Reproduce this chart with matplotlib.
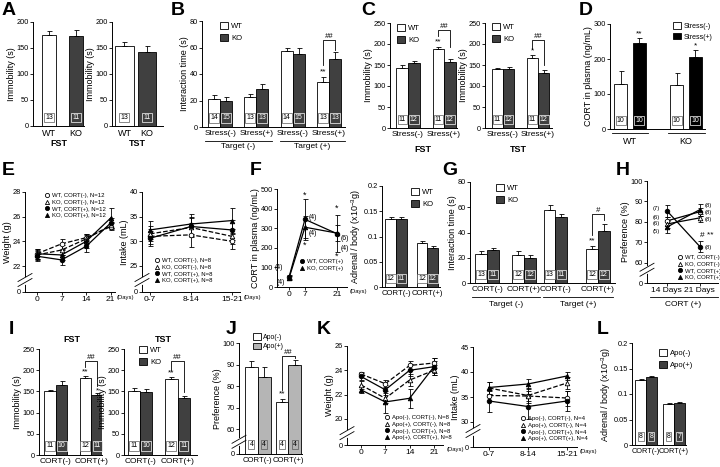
import matplotlib.pyplot as plt
import matplotlib.transforms as mtransforms
from matplotlib.lines import Line2D
from matplotlib.patches import Patch

plt.rcParams['font.family'] = ['Liberation Sans', 'DejaVu Sans']
plt.rcParams['mathtext.default'] = 'regular'
plt.rcParams['axes.linewidth'] = 0.7

# ---- data ----
a_groups = ['WT', 'KO']
a_fst = [175, 173]
a_fst_err = [7, 11]
a_tst = [153, 143]
a_tst_err = [8, 11]
a_n = [13, 11]

b_groups = ['Stress(-)', 'Stress(+)', 'Stress(-)', 'Stress(+)']
b_wt = [21, 22.5, 57, 34]
b_wt_err = [3.5, 2.5, 2.5, 4]
b_wt_n = [14, 13, 14, 13]
b_ko = [20, 28.5, 55, 51.5]
b_ko_err = [3, 4, 5, 5]
b_ko_n = [15, 13, 15, 13]

c_groups = ['Stress(-)', 'Stress(+)']
c_fst_wt = [143, 188]
c_fst_wt_err = [6, 6]
c_fst_ko = [154, 158]
c_fst_ko_err = [5, 7]
c_tst_wt = [140, 166]
c_tst_wt_err = [4, 8]
c_tst_ko = [140, 131]
c_tst_ko_err = [6, 8]
c_wt_n = [11, 11]
c_ko_n = [12, 12]

d_groups = ['WT', 'KO']
d_minus = [130, 125]
d_minus_err = [35, 35]
d_plus = [247, 207]
d_plus_err = [13, 18]
d_n = [10, 10]

e_days = [0, 7, 14, 21]
e_wt_cm = [23.0, 23.8, 24.3, 25.2]
e_wt_cm_err = [0.4, 0.4, 0.3, 0.3]
e_ko_cm = [22.9, 23.3, 24.2, 25.3]
e_ko_cm_err = [0.4, 0.4, 0.4, 0.3]
e_wt_cp = [22.8, 22.5, 23.6, 25.5]
e_wt_cp_err = [0.4, 0.4, 0.5, 0.4]
e_ko_cp = [23.0, 22.9, 24.0, 25.9]
e_ko_cp_err = [0.4, 0.4, 0.5, 0.8]

e_int_labels = ['0-7', '8-14', '15-21']
e_int_wt_cm = [31.0, 31.3, 30.0]
e_int_wt_cm_err = [1.5, 2.5, 1.5]
e_int_ko_cm = [31.5, 32.8, 31.0]
e_int_ko_cm_err = [1.5, 2.0, 1.5]
e_int_wt_cp = [30.6, 33.0, 32.3]
e_int_wt_cp_err = [1.5, 2.0, 2.0]
e_int_ko_cp = [32.3, 33.5, 34.2]
e_int_ko_cp_err = [1.8, 2.0, 2.5]

f_days = [0, 7, 21]
f_wt = [50, 345, 272]
f_wt_err = [10, 105, 95]
f_ko = [45, 305, 275]
f_ko_err = [10, 55, 40]

f_adr_groups = ['CORT(-)', 'CORT(+)']
f_adr_wt = [0.135, 0.088]
f_adr_wt_err = [0.003, 0.004]
f_adr_ko = [0.135, 0.078]
f_adr_ko_err = [0.003, 0.004]
f_adr_wt_n = [12, 12]
f_adr_ko_n = [11, 12]

g_groups = ['CORT(-)', 'CORT(+)', 'CORT(-)', 'CORT(+)']
g_wt = [23, 22.5, 58, 27]
g_wt_err = [2.5, 2.5, 4, 2.5]
g_ko = [26.5, 20, 52.5, 41.5]
g_ko_err = [1.5, 2, 2.5, 5.5]
g_wt_n = [13, 12, 13, 12]
g_ko_n = [11, 12, 11, 12]

h_labels = ['14 Days', '21 Days']
h_wt_cm = [80.5, 85]
h_wt_cm_err = [2, 2]
h_ko_cm = [79, 82]
h_ko_cm_err = [2, 2]
h_wt_cp = [85.5, 68]
h_wt_cp_err = [3, 2.5]
h_ko_cp = [77.5, 86]
h_ko_cp_err = [3, 3]

i_groups = ['CORT(-)', 'CORT(+)']
i_fst_wt = [150, 182]
i_fst_wt_err = [3, 5]
i_fst_ko = [165, 142]
i_fst_ko_err = [10, 5]
i_tst_wt = [152, 179]
i_tst_wt_err = [6, 5]
i_tst_ko = [149, 135]
i_tst_ko_err = [7, 5]
i_wt_n = [11, 12]
i_ko_n = [10, 11]

j_groups = ['CORT(-)', 'CORT(+)']
j_minus = [89, 72.5]
j_minus_err = [2.5, 1.5]
j_plus = [84, 90]
j_plus_err = [5, 2]
j_n = [4, 4]

k_days = [0, 7, 14, 21]
k_am_cm = [23.7, 22.9, 24.4, 24.6]
k_am_cm_err = [0.2, 0.3, 0.4, 0.4]
k_ap_cm = [22.8, 21.7, 23.2, 24.0]
k_ap_cm_err = [0.3, 0.4, 0.5, 0.4]
k_am_cp = [23.5, 22.4, 24.0, 24.3]
k_am_cp_err = [0.3, 0.4, 0.5, 0.5]
k_ap_cp = [22.4, 21.4, 21.7, 24.3]
k_ap_cp_err = [0.3, 0.9, 0.8, 0.7]

k_int_labels = ['0-7', '8-14', '15-21']
k_int_am_cm = [35.3, 35.2, 34.8]
k_int_am_cm_err = [1.0, 1.0, 1.5]
k_int_ap_cm = [36.8, 35.3, 37.8]
k_int_ap_cm_err = [1.2, 1.5, 1.2]
k_int_am_cp = [34.2, 33.1, 34.2]
k_int_am_cp_err = [2.2, 2.5, 2.0]
k_int_ap_cp = [36.9, 37.6, 39.2]
k_int_ap_cp_err = [1.2, 1.0, 0.8]

l_groups = ['CORT(-)', 'CORT(+)']
l_minus = [0.128, 0.081]
l_minus_err = [0.002, 0.002]
l_plus = [0.133, 0.082]
l_plus_err = [0.002, 0.002]
l_minus_n = [8, 8]
l_plus_n = [8, 7]

WHITE = 'white'
DARK = '#404040'
BLACK = '#000000'
LIGHT = '#b5b5b5'

W, H = 720, 467
fig = plt.figure(figsize=(7.2, 4.67), dpi=100)


def add_ax(x0, y0, x1, y1):
    ax = fig.add_axes([x0 / W, 1 - y1 / H, (x1 - x0) / W, (y1 - y0) / H])
    ax.spines['top'].set_visible(False)
    ax.spines['right'].set_visible(False)
    ax.tick_params(length=2, width=0.6, labelsize=5.3, pad=1)
    ax.px = (x1 - x0, y1 - y0)
    return ax


def fig_text(x, y, s, **kw):
    kw.setdefault('fontsize', 6)
    kw.setdefault('ha', 'center')
    kw.setdefault('va', 'center')
    fig.text(x / W, 1 - y / H, s, **kw)


def fig_line(x0, x1, y):
    fig.add_artist(Line2D([x0 / W, x1 / W], [1 - y / H, 1 - y / H],
                          transform=fig.transFigure, color='k', lw=0.6))


def letter(x, y, s):
    fig_text(x, y, s, fontsize=14, fontweight='bold', ha='left', va='top')


def bars(ax, pos, vals, errs, ns, width, color):
    dark = color in (DARK, BLACK)
    ax.bar(pos, vals, width, color=color, edgecolor='k', linewidth=0.6, zorder=2)
    ax.errorbar(pos, vals, yerr=[[0] * len(vals), errs], fmt='none', ecolor='k',
                elinewidth=0.6, capsize=1.8, capthick=0.6, zorder=3)
    tr = mtransforms.blended_transform_factory(ax.transData, ax.transAxes)
    for x, n in zip(pos, ns):
        ax.text(x, 0.085, str(n), transform=tr, ha='center', va='center',
                fontsize=5, color='white' if dark else 'k', zorder=4,
                bbox=dict(boxstyle='square,pad=0.15', fc=color,
                          ec='white' if dark else '0.35', lw=0.5))


def pair_bars(ax, gx, w, s1, s2):
    # s = (values, errors, n, colour)
    bars(ax, [g - w / 2 for g in gx], s1[0], s1[1], s1[2], w, s1[3])
    bars(ax, [g + w / 2 for g in gx], s2[0], s2[1], s2[2], w, s2[3])


def square_legend(ax, labels, colors, x, y, fs=5.5, sp=0.45):
    handles = [Patch(facecolor=c, edgecolor='k', linewidth=0.6) for c in colors]
    ax.legend(handles, labels, loc='upper left', bbox_to_anchor=(x / W, 1 - y / H),
              bbox_transform=fig.transFigure, frameon=False, fontsize=fs,
              handlelength=1.1, handleheight=1.1, handletextpad=0.4,
              labelspacing=sp, borderpad=0, borderaxespad=0)


STYLES = [('o', False, '--'), ('^', False, '--'), ('o', True, '-'), ('^', True, '-')]


def series(ax, x, y, e, style):
    m, filled, ls = style
    ax.errorbar(x, y, yerr=e, color='k', lw=0.9, ls=ls, marker=m, ms=3.3,
                mfc='k' if filled else 'white', mec='k', mew=0.6,
                capsize=1.8, elinewidth=0.6, capthick=0.6)


def marker_legend(ax, labels, styles, x, y, fs=4.3):
    handles = [Line2D([], [], ls='none', marker=m, mfc='k' if f else 'white', mec='k',
                      ms=3, mew=0.6) for m, f, _ in styles]
    ax.legend(handles, labels, loc='upper left', bbox_to_anchor=(x / W, 1 - y / H),
              bbox_transform=fig.transFigure, frameon=False, fontsize=fs,
              handlelength=0.8, handletextpad=0.3, labelspacing=0.25,
              borderpad=0, borderaxespad=0)


def axis_break(ax, frac):
    w, h = ax.px
    dx, dy, gap = 7 / w, 4 / h, 2.5 / h
    ax.plot([0, 0], [frac - gap, frac + gap], color='white', lw=2,
            transform=ax.transAxes, clip_on=False, zorder=5)
    for d in (-gap, gap):
        ax.plot([-dx, dx], [frac + d - dy, frac + d + dy], color='k', lw=0.6,
                transform=ax.transAxes, clip_on=False, zorder=6)


def bracket(ax, x1, x2, y1, ytop, y2, label):
    ax.plot([x1, x1, x2, x2], [y1, ytop, ytop, y2], color='k', lw=0.6, clip_on=False)
    ax.text((x1 + x2) / 2, ytop, label, ha='center', va='bottom', fontsize=5.5,
            style='italic')


def ylab(ax, s):
    ax.set_ylabel(s, fontsize=6.5, labelpad=0.5)


def xcats(ax, pos, labels, fs=6):
    ax.set_xticks(pos, labels)
    ax.tick_params(axis='x', length=0, pad=2, labelsize=fs)


# ---- A ----
letter(2, 2, 'A')
ax = add_ax(33, 22, 84, 126)
bars(ax, [0], a_fst[:1], a_fst_err[:1], a_n[:1], 0.55, WHITE)
bars(ax, [1], a_fst[1:], a_fst_err[1:], a_n[1:], 0.55, DARK)
ax.set_xlim(-0.6, 1.3)
ax.set_ylim(0, 200)
ax.set_yticks([0, 50, 100, 150, 200])
xcats(ax, [0, 1], a_groups, 6.5)
ylab(ax, 'Immobility (s)')
ax.set_xlabel('FST', fontsize=6.5, fontweight='bold', labelpad=1)

ax = add_ax(112, 22, 163, 126)
bars(ax, [0], a_tst[:1], a_tst_err[:1], a_n[:1], 0.8, WHITE)
bars(ax, [1], a_tst[1:], a_tst_err[1:], a_n[1:], 0.8, DARK)
ax.set_xlim(-0.55, 1.7)
ax.set_ylim(0, 200)
ax.set_yticks([0, 50, 100, 150, 200])
xcats(ax, [0, 1], a_groups, 6.5)
ylab(ax, 'Immobility (s)')
ax.set_xlabel('TST', fontsize=6.5, fontweight='bold', labelpad=1)

# ---- B ----
letter(171, 2, 'B')
ax = add_ax(202, 21, 345, 127)
gx = [0, 1, 2, 3]
w = 0.33
pair_bars(ax, gx, w, (b_wt, b_wt_err, b_wt_n, WHITE), (b_ko, b_ko_err, b_ko_n, DARK))
ax.set_xlim(-0.5, 3.44)
ax.set_ylim(0, 80)
ax.set_yticks([0, 20, 40, 60, 80])
xcats(ax, gx, b_groups)
ylab(ax, 'Interaction time (s)')
square_legend(ax, ['WT', 'KO'], [WHITE, DARK], 220, 22)
ax.text(3 - w / 2, b_wt[3] + b_wt_err[3] + 1, '**', ha='center', va='bottom', fontsize=6)
bracket(ax, 3 - w / 2, 3 + w / 2, 47, 66, 58, '##')
fig_line(205, 272, 141)
fig_text(238, 147, 'Target (-)')
fig_line(280, 345, 141)
fig_text(312, 147, 'Target (+)')

# ---- C ----
letter(361, 2, 'C')
ax = add_ax(390, 23, 457, 128)
gx = [0, 1]
w = 0.32
pair_bars(ax, gx, w, (c_fst_wt, c_fst_wt_err, c_wt_n, WHITE), (c_fst_ko, c_fst_ko_err, c_ko_n, DARK))
ax.set_xlim(-0.5, 1.36)
ax.set_ylim(0, 250)
ax.set_yticks([0, 50, 100, 150, 200, 250])
xcats(ax, gx, c_groups)
ylab(ax, 'Immobility (s)')
square_legend(ax, ['WT', 'KO'], [WHITE, DARK], 397, 24)
ax.text(1 - w / 2, c_fst_wt[1] + c_fst_wt_err[1] + 2, '**', ha='center', va='bottom', fontsize=6)
bracket(ax, 1 - w / 2, 1 + w / 2, 219, 234, 192, '##')
fig_text(423, 149, 'FST', fontsize=6.5, fontweight='bold')

ax = add_ax(485, 23, 552, 128)
pair_bars(ax, gx, w, (c_tst_wt, c_tst_wt_err, c_wt_n, WHITE), (c_tst_ko, c_tst_ko_err, c_ko_n, DARK))
ax.set_xlim(-0.51, 1.4)
ax.set_ylim(0, 250)
ax.set_yticks([0, 50, 100, 150, 200, 250])
xcats(ax, gx, c_groups)
ylab(ax, 'Immobility (s)')
square_legend(ax, ['WT', 'KO'], [WHITE, DARK], 492, 23)
ax.text(1 - w / 2, c_tst_wt[1] + c_tst_wt_err[1] + 2, '*', ha='center', va='bottom', fontsize=6)
bracket(ax, 1 - w / 2, 1 + w / 2, 188, 210, 150, '##')
fig_text(518, 149, 'TST', fontsize=6.5, fontweight='bold')

# ---- D ----
letter(579, 2, 'D')
ax = add_ax(610, 24, 705, 129)
gx = [0, 1]
bars(ax, [g - 0.166 for g in gx], d_minus, d_minus_err, d_n, 0.235, WHITE)
bars(ax, [g + 0.166 for g in gx], d_plus, d_plus_err, d_n, 0.235, BLACK)
ax.set_xlim(-0.357, 1.34)
ax.set_ylim(0, 300)
ax.set_yticks([0, 100, 200, 300])
ax.set_xticks(gx, d_groups)
ax.tick_params(axis='x', length=0, pad=6, labelsize=6.5)
ylab(ax, 'CORT in plasma (ng/mL)')
square_legend(ax, ['Stress(-)', 'Stress(+)'], [WHITE, BLACK], 673, 22, 5)
ax.text(0.166, d_plus[0] + d_plus_err[0] + 3, '**', ha='center', va='bottom', fontsize=6)
ax.text(1.166, d_plus[1] + d_plus_err[1] + 3, '*', ha='center', va='bottom', fontsize=6)
fig_line(612, 648, 133)
fig_line(668, 705, 133)

# ---- E ----
letter(2, 162, 'E')
ax = add_ax(25, 192, 115, 292)
for y, e, st in zip([e_wt_cm, e_ko_cm, e_wt_cp, e_ko_cp],
                    [e_wt_cm_err, e_ko_cm_err, e_wt_cp_err, e_ko_cp_err], STYLES):
    series(ax, e_days, y, e, st)
ax.set_xlim(-3.4, 22.2)
ax.set_ylim(19.9, 28)
ax.set_yticks([19.9, 22, 24, 26, 28], ['0', '22', '24', '26', '28'])
ax.set_xticks(e_days)
ax.tick_params(axis='x', labelsize=6)
ylab(ax, 'Weight (g)')
axis_break(ax, 0.12)
marker_legend(ax, ['WT, CORT(-), N=12', 'KO, CORT(-), N=12', 'WT, CORT(+), N=12', 'KO, CORT(+), N=12'],
              STYLES, 45, 193)
fig_text(117, 297, '(Days)', fontsize=4.2, ha='left')

ax = add_ax(142, 192, 240, 292)
for y, e, st in zip([e_int_wt_cm, e_int_ko_cm, e_int_wt_cp, e_int_ko_cp],
                    [e_int_wt_cm_err, e_int_ko_cm_err, e_int_wt_cp_err, e_int_ko_cp_err], STYLES):
    series(ax, range(3), y, e, st)
ax.set_xlim(-0.195, 2.2)
ax.set_ylim(19.7, 40)
ax.set_yticks([19.7, 25, 30, 35, 40], ['0', '25', '30', '35', '40'])
ax.set_xticks(range(3), e_int_labels)
ax.tick_params(axis='x', labelsize=6)
ylab(ax, 'Intake (mL)')
axis_break(ax, 0.12)
marker_legend(ax, ['WT, CORT(-), N=8', 'KO, CORT(-), N=8', 'WT, CORT(+), N=8', 'KO, CORT(+), N=8'],
              STYLES, 155, 258)
fig_text(244, 297, '(Days)', fontsize=4.2, ha='left')

# ---- F ----
letter(250, 162, 'F')
ax = add_ax(277, 189, 347, 287)
series(ax, f_days, f_wt, f_wt_err, STYLES[2])
series(ax, f_days, f_ko, f_ko_err, STYLES[3])
ax.set_xlim(-5.25, 25.4)
ax.set_ylim(0, 500)
ax.set_yticks([0, 100, 200, 300, 400, 500])
ax.set_xticks(f_days)
ax.tick_params(axis='x', labelsize=6)
ylab(ax, 'CORT in plasma (ng/mL)')
for x, y, s in [(-4.3, 97, '(4)'), (-3.6, 22, '(4)'), (10.5, 357, '(4)'), (10.5, 275, '(4)'),
                (24.5, 245, '(6)'), (24.5, 194, '(4)')]:
    ax.text(x, y, s, ha='center', va='center', fontsize=5)
for x, y in [(7, 470), (7, 214), (21, 403), (21, 158)]:
    ax.text(x, y, '*', ha='center', va='center', fontsize=6.5)
marker_legend(ax, ['WT, CORT(+)', 'KO, CORT(+)'], STYLES[2:], 300, 259)
fig_text(350, 291, '(Days)', fontsize=4.2, ha='left')

ax = add_ax(382, 186, 440, 287)
gx = [0, 1]
w = 0.34
pair_bars(ax, gx, w, (f_adr_wt, f_adr_wt_err, f_adr_wt_n, WHITE),
          (f_adr_ko, f_adr_ko_err, f_adr_ko_n, DARK))
ax.set_xlim(-0.45, 1.4)
ax.set_ylim(0, 0.2)
ax.set_yticks([0, 0.05, 0.1, 0.15, 0.2], ['0', '0.05', '0.1', '0.15', '0.2'])
xcats(ax, gx, f_adr_groups, 5.6)
ylab(ax, r'Adrenal / body (x10$^{-3}$g)')
square_legend(ax, ['WT', 'KO'], [WHITE, DARK], 411, 188)

# ---- G ----
letter(442, 162, 'G')
ax = add_ax(470, 182, 615, 283)
gx = [0, 1, 1.85, 3.0]
w = 0.32
pair_bars(ax, gx, w, (g_wt, g_wt_err, g_wt_n, WHITE), (g_ko, g_ko_err, g_ko_n, DARK))
ax.set_xlim(-0.46, 3.46)
ax.set_ylim(0, 80)
ax.set_yticks([0, 20, 40, 60, 80])
xcats(ax, gx, g_groups)
ylab(ax, 'Interaction time (s)')
square_legend(ax, ['WT', 'KO'], [WHITE, DARK], 496, 184)
ax.text(3 - w / 2, g_wt[3] + g_wt_err[3] + 1, '**', ha='center', va='bottom', fontsize=6)
bracket(ax, 3 - w / 2, 3 + w / 2, 38, 55, 50, '#')
fig_line(472, 540, 297)
fig_text(506, 304, 'Target (-)')
fig_line(543, 613, 297)
fig_text(578, 304, 'Target (+)')

# ---- H ----
letter(616, 162, 'H')
ax = add_ax(647, 181, 718, 283)
for y, e, st in zip([h_wt_cm, h_ko_cm, h_wt_cp, h_ko_cp],
                    [h_wt_cm_err, h_ko_cm_err, h_wt_cp_err, h_ko_cp_err], STYLES):
    series(ax, [0, 1], y, e, (st[0], st[1], '-'))
ax.set_xlim(-0.6, 1.55)
ax.set_ylim(50.2, 100)
ax.set_yticks([50.2, 60, 70, 80, 90, 100], ['0', '60', '70', '80', '90', '100'])
ax.set_xticks([0, 1], h_labels)
ax.tick_params(axis='x', labelsize=6)
ylab(ax, 'Preference (%)')
axis_break(ax, 0.13)
for x, y, s in [(-0.33, 86.5, '(7)'), (-0.33, 82.3, '(6)'), (-0.33, 79.2, '(6)'), (-0.33, 75.5, '(5)'),
                (1.25, 87.8, '(8)'), (1.25, 84.6, '(8)'), (1.25, 81.4, '(8)'), (1.25, 67.5, '(8)')]:
    ax.text(x, y, s, ha='center', va='center', fontsize=4.2)
ax.text(1.22, 73.5, '# **', ha='center', va='center', fontsize=6)
marker_legend(ax, ['WT, CORT(-)', 'KO, CORT(-)', 'WT, CORT(+)', 'KO, CORT(+)'], STYLES, 678, 255)
fig_line(650, 718, 297)
fig_text(683, 304, 'CORT (+)')

# ---- I ----
letter(9, 321, 'I')
ax = add_ax(39, 349, 102, 455)
gx = [0, 1]
w = 0.33
pair_bars(ax, gx, w, (i_fst_wt, i_fst_wt_err, i_wt_n, WHITE), (i_fst_ko, i_fst_ko_err, i_ko_n, DARK))
ax.set_xlim(-0.47, 1.3)
ax.set_ylim(0, 250)
ax.set_yticks([0, 50, 100, 150, 200, 250])
xcats(ax, gx, i_groups)
ylab(ax, 'Immobility (s)')
ax.text(1 - w / 2, i_fst_wt[1] + i_fst_wt_err[1] + 1, '**', ha='center', va='bottom', fontsize=6)
ax.text(1 + w / 2, i_fst_ko[1] + i_fst_ko_err[1] - 3, '*', ha='center', va='bottom', fontsize=6)
bracket(ax, 1 - w / 2, 1 + w / 2, 208, 222, 163, '##')
fig_text(72, 340, 'FST', fontsize=6.5, fontweight='bold')

ax = add_ax(124, 349, 197, 455)
pair_bars(ax, gx, w, (i_tst_wt, i_tst_wt_err, i_wt_n, WHITE), (i_tst_ko, i_tst_ko_err, i_ko_n, DARK))
ax.set_xlim(-0.43, 1.52)
ax.set_ylim(0, 250)
ax.set_yticks([0, 50, 100, 150, 200, 250])
xcats(ax, gx, i_groups)
ylab(ax, 'Immobility (s)')
square_legend(ax, ['WT', 'KO'], [WHITE, DARK], 139, 346)
ax.text(1 - w / 2, i_tst_wt[1] + i_tst_wt_err[1] + 1, '**', ha='center', va='bottom', fontsize=6)
bracket(ax, 1 - w / 2, 1 + w / 2, 200, 222, 148, '##')
fig_text(163, 339, 'TST', fontsize=6.5, fontweight='bold')

# ---- J ----
letter(226, 321, 'J')
ax = add_ax(239, 343, 302, 454)
w = 0.42
pair_bars(ax, gx, w, (j_minus, j_minus_err, j_n, WHITE), (j_plus, j_plus_err, j_n, LIGHT))
ax.set_xlim(-0.62, 1.45)
ax.set_ylim(48.4, 100)
ax.set_yticks([48.4, 60, 70, 80, 90, 100], ['0', '60', '70', '80', '90', '100'])
xcats(ax, gx, j_groups, 5.6)
ylab(ax, 'Preference (%)')
axis_break(ax, 0.11)
square_legend(ax, ['Apo(-)', 'Apo(+)'], [WHITE, LIGHT], 253, 333, 5, 0.3)
ax.text(1 - w / 2, j_minus[1] + j_minus_err[1] + 0.5, '**', ha='center', va='bottom', fontsize=6)
bracket(ax, 1 - w / 2, 1 + w / 2, 78, 94, 93, '##')

# ---- K ----
letter(317, 321, 'K')
ax = add_ax(347, 346, 443, 445)
for y, e, st in zip([k_am_cm, k_ap_cm, k_am_cp, k_ap_cp],
                    [k_am_cm_err, k_ap_cm_err, k_am_cp_err, k_ap_cp_err], STYLES):
    series(ax, k_days, y, e, st)
ax.set_xlim(-4.0, 23.6)
ax.set_ylim(17.86, 26)
ax.set_yticks([17.86, 20, 22, 24, 26], ['0', '20', '22', '24', '26'])
ax.set_xticks(k_days)
ax.tick_params(axis='x', labelsize=6)
ylab(ax, 'Weight (g)')
axis_break(ax, 0.12)
marker_legend(ax, ['Apo(-), CORT(-), N=8', 'Apo(+), CORT(-), N=8',
                   'Apo(-), CORT(+), N=8', 'Apo(+), CORT(+), N=8'], STYLES, 385, 415)
fig_text(447, 450, '(Days)', fontsize=4.2, ha='left')

ax = add_ax(473, 347, 577, 447)
for y, e, st in zip([k_int_am_cm, k_int_ap_cm, k_int_am_cp, k_int_ap_cp],
                    [k_int_am_cm_err, k_int_ap_cm_err, k_int_am_cp_err, k_int_ap_cp_err], STYLES):
    series(ax, range(3), y, e, st)
ax.set_xlim(-0.41, 2.26)
ax.set_ylim(25, 45)
ax.set_yticks([25, 30, 35, 40, 45], ['0', '30', '35', '40', '45'])
ax.set_xticks(range(3), k_int_labels)
ax.tick_params(axis='x', labelsize=6)
ylab(ax, 'Intake (mL)')
axis_break(ax, 0.16)
marker_legend(ax, ['Apo(-), CORT(-), N=4', 'Apo(+), CORT(-), N=4',
                   'Apo(-), CORT(+), N=4', 'Apo(+), CORT(+), N=4'], STYLES, 521, 416)
fig_text(580, 451, '(Days)', fontsize=4.2, ha='left')

# ---- L ----
letter(597, 321, 'L')
ax = add_ax(632, 343, 686, 445)
w = 0.39
pair_bars(ax, gx, w, (l_minus, l_minus_err, l_minus_n, WHITE), (l_plus, l_plus_err, l_plus_n, DARK))
ax.set_xlim(-0.5, 1.43)
ax.set_ylim(0, 0.2)
ax.set_yticks([0, 0.05, 0.1, 0.15, 0.2], ['0', '0.05', '0.1', '0.15', '0.2'])
xcats(ax, gx, l_groups, 5.3)
ylab(ax, r'Adrenal / body (x10$^{-3}$g)')
square_legend(ax, ['Apo(-)', 'Apo(+)'], [WHITE, DARK], 659, 349)

fig.savefig('out.png', dpi=100)
